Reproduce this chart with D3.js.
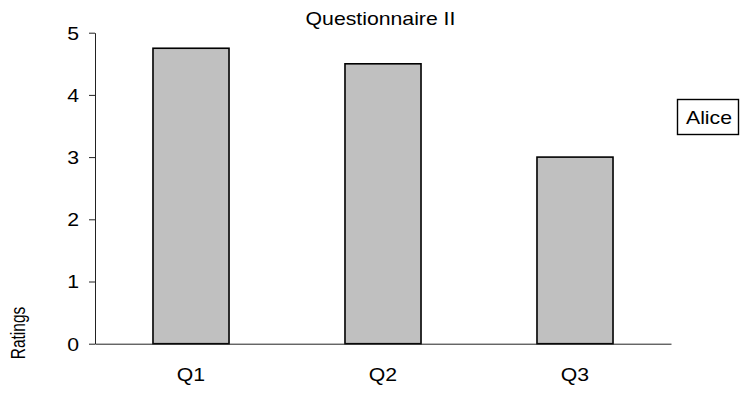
<!DOCTYPE html>
<html>
<head>
<meta charset="utf-8">
<script src="https://cdn.jsdelivr.net/npm/d3@7"></script>
<style>
  html, body { margin: 0; padding: 0; background: #fff; }
  svg { display: block; }
  text { font-family: "Liberation Sans", Arial, sans-serif; fill: #000; }
</style>
</head>
<body>
<svg id="chart" width="740" height="396"></svg>
<script>
// Ratings for each question
const categories = ["Q1", "Q2", "Q3"];
const ratings = [4.75, 4.5, 3.0];
const yTicks = [0, 1, 2, 3, 4, 5];
const seriesName = "Alice";
const chartTitle = "Questionnaire II";
const yTitle = "Ratings";

const W = 740, H = 396;
const plot = { left: 95, right: 671, top: 32.7, bottom: 343.7 };
const sx = 1.18; // wide text look

const svg = d3.select("#chart");

const x = d3.scaleBand()
  .domain(categories)
  .range([plot.left, plot.right])
  .paddingInner(0.604)
  .paddingOuter(0.302);

const y = d3.scaleLinear()
  .domain([0, 5])
  .range([plot.bottom, plot.top]);

// bars
svg.append("g")
  .selectAll("rect")
  .data(categories.map((c, i) => ({ c, v: ratings[i] })))
  .join("rect")
  .attr("x", d => x(d.c))
  .attr("y", d => y(d.v))
  .attr("width", x.bandwidth())
  .attr("height", d => y(0) - y(d.v))
  .attr("fill", "#c0c0c0")
  .attr("stroke", "#000")
  .attr("stroke-width", 1.6);

// y axis
const yAxis = svg.append("g")
  .attr("transform", `translate(${plot.left},0)`)
  .call(d3.axisLeft(y).tickValues(yTicks).tickFormat(d3.format("d")).tickSize(6).tickSizeOuter(0));
yAxis.select(".domain").attr("stroke", "#222").attr("stroke-width", 1);
yAxis.selectAll(".tick line").attr("stroke", "#222");
yAxis.selectAll(".tick text")
  .attr("x", -16 / sx)
  .attr("dy", "0.35em")
  .attr("transform", `scale(${sx},1)`)
  .style("font-size", "18px")
  .style("font-family", "'Liberation Sans', Arial, sans-serif")
  .attr("fill", "#000");

// x axis
const xAxis = svg.append("g")
  .attr("transform", `translate(0,${plot.bottom})`)
  .call(d3.axisBottom(x).tickSize(0).tickSizeOuter(0));
xAxis.select(".domain").attr("stroke", "#222").attr("stroke-width", 1);
xAxis.selectAll(".tick text")
  .attr("y", 0)
  .attr("dy", 0)
  .attr("transform", `translate(0,37.5) scale(${sx},1)`)
  .style("font-size", "18px")
  .style("font-family", "'Liberation Sans', Arial, sans-serif")
  .attr("fill", "#000");

// title
svg.append("text")
  .attr("transform", `translate(380.5,25) scale(${sx},1)`)
  .attr("text-anchor", "middle")
  .style("font-size", "18px")
  .text(chartTitle);

// y axis title
svg.append("text")
  .attr("transform", `translate(25,333) scale(1.3,1) rotate(-90)`)
  .attr("text-anchor", "middle")
  .style("font-size", "15.5px")
  .text(yTitle);

// legend
const lg = svg.append("g");
lg.append("rect")
  .attr("x", 677.5).attr("y", 99.5)
  .attr("width", 61).attr("height", 35)
  .attr("fill", "#fff")
  .attr("stroke", "#000")
  .attr("stroke-width", 1.4);
lg.append("text")
  .attr("transform", `translate(686,123.5) scale(${sx},1)`)
  .style("font-size", "18px")
  .text(seriesName);
</script>
</body>
</html>
